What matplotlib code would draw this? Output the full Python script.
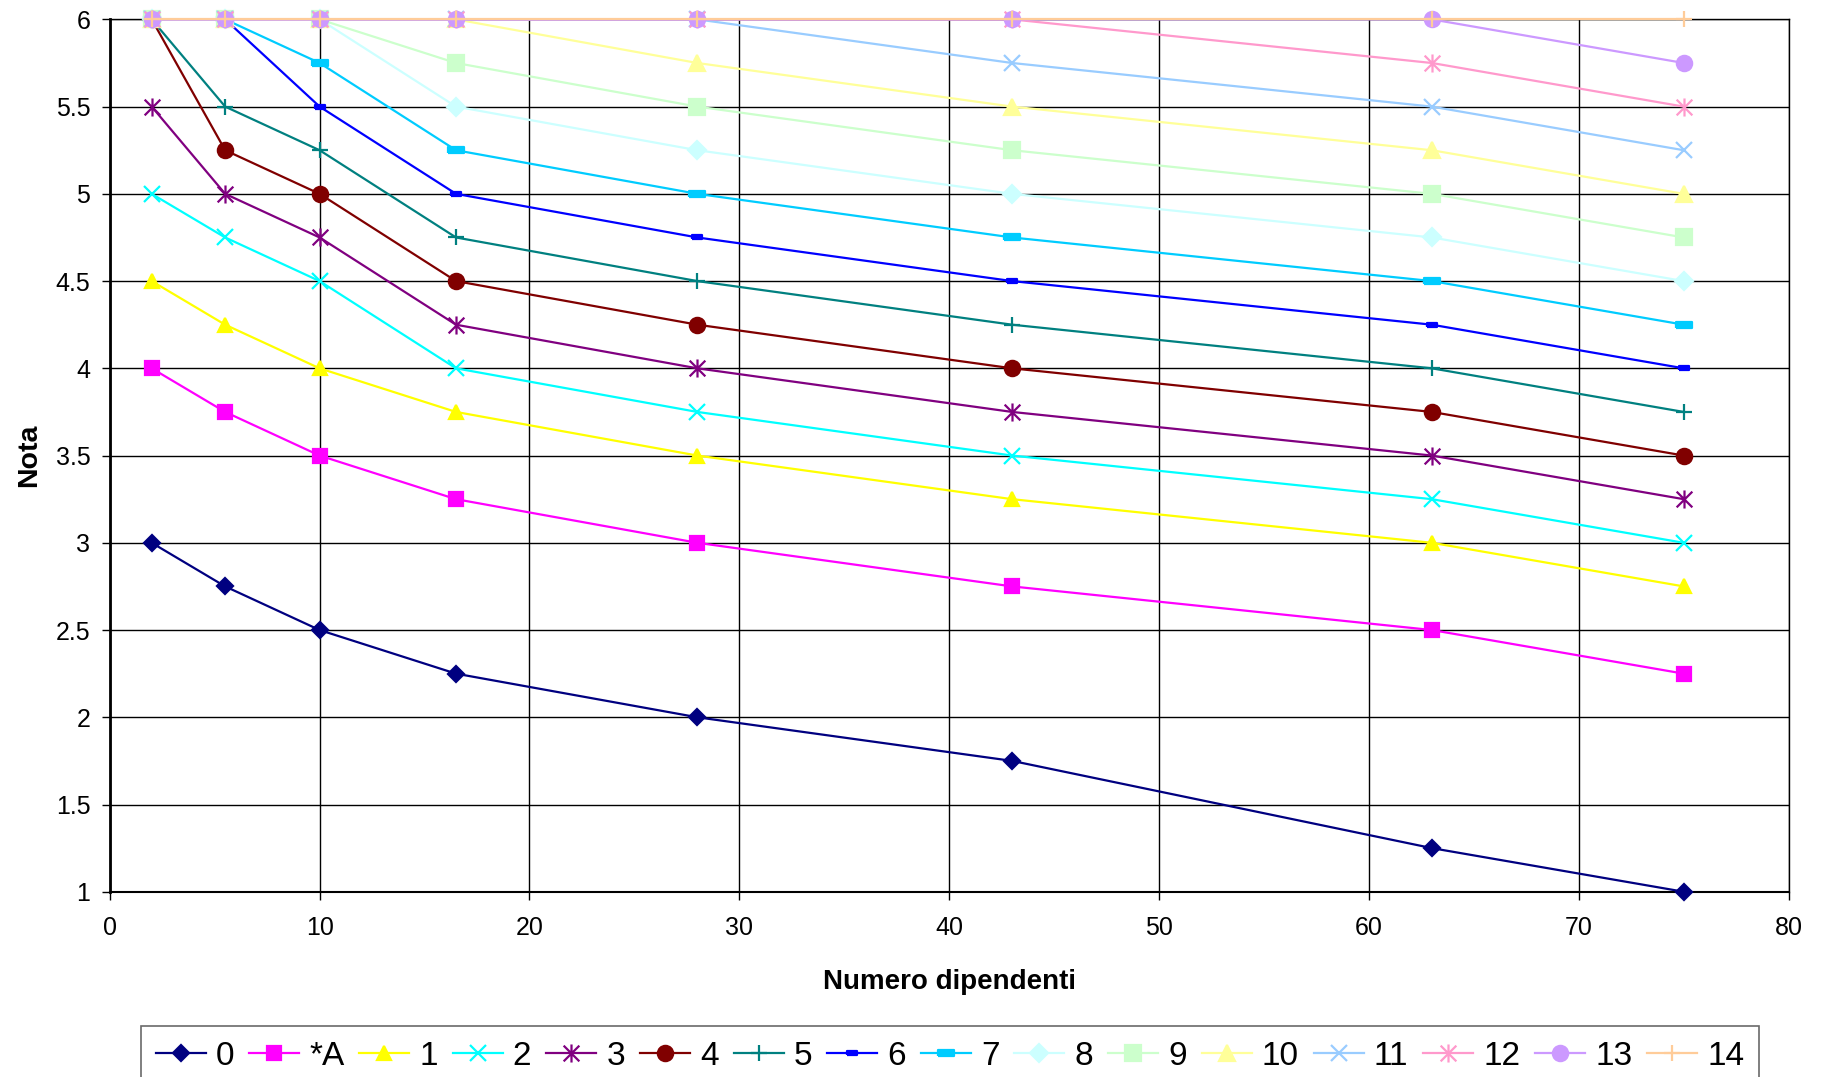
import matplotlib
matplotlib.use('Agg')
import matplotlib.pyplot as plt
from matplotlib.path import Path

plt.rcParams['font.family'] = ['Liberation Sans', 'DejaVu Sans']

# Numero dipendenti (asse x)
dipendenti = [2, 5.5, 10, 16.5, 28, 43, 63, 75]

# Nota per ciascuna serie
nomi = ['0', '*A', '1', '2', '3', '4', '5', '6', '7', '8', '9', '10', '11', '12', '13', '14']
note = [
    [3, 2.75, 2.5, 2.25, 2, 1.75, 1.25, 1],
    [4, 3.75, 3.5, 3.25, 3, 2.75, 2.5, 2.25],
    [4.5, 4.25, 4, 3.75, 3.5, 3.25, 3, 2.75],
    [5, 4.75, 4.5, 4, 3.75, 3.5, 3.25, 3],
    [5.5, 5, 4.75, 4.25, 4, 3.75, 3.5, 3.25],
    [6, 5.25, 5, 4.5, 4.25, 4, 3.75, 3.5],
    [6, 5.5, 5.25, 4.75, 4.5, 4.25, 4, 3.75],
    [6, 6, 5.5, 5, 4.75, 4.5, 4.25, 4],
    [6, 6, 5.75, 5.25, 5, 4.75, 4.5, 4.25],
    [6, 6, 6, 5.5, 5.25, 5, 4.75, 4.5],
    [6, 6, 6, 5.75, 5.5, 5.25, 5, 4.75],
    [6, 6, 6, 6, 5.75, 5.5, 5.25, 5],
    [6, 6, 6, 6, 6, 5.75, 5.5, 5.25],
    [6, 6, 6, 6, 6, 6, 5.75, 5.5],
    [6, 6, 6, 6, 6, 6, 6, 5.75],
    [6, 6, 6, 6, 6, 6, 6, 6],
]

colori = ['#000080', '#FF00FF', '#FFFF00', '#00FFFF', '#800080', '#800000',
          '#008080', '#0000FF', '#00CCFF', '#CCFFFF', '#CCFFCC', '#FFFF99',
          '#99CCFF', '#FF99CC', '#CC99FF', '#FFCC99']

# marker Excel: barra orizzontale e asterisco (x + linea verticale)
barra = [(-1, -0.35), (1, -0.35), (1, 0.35), (-1, 0.35), (-1, -0.35)]
stella = Path([(-1, -1), (1, 1), (-1, 1), (1, -1), (0, -1.15), (0, 1.15)],
              [Path.MOVETO, Path.LINETO, Path.MOVETO, Path.LINETO, Path.MOVETO, Path.LINETO])
marker = ['D', 's', '^', 'x', stella, 'o', '+', barra, barra,
          'D', 's', '^', 'x', stella, 'o', '+']
msize = [8, 10, 10, 11, 13, 11, 12, 7, 11, 9, 11, 11, 11, 13, 11, 12]

fig = plt.figure(figsize=(18.29, 10.77), dpi=100)
ax = fig.add_axes([0.060, 0.172, 0.918, 0.810])

for i in range(len(nomi)):
    ax.plot(dipendenti, note[i], color=colori[i], marker=marker[i],
            markersize=msize[i], markeredgewidth=1.6, linewidth=1.6,
            label=nomi[i], clip_on=False, zorder=3 + i)

ax.set_xlim(0, 80)
ax.set_ylim(1, 6)
ax.set_xticks(range(0, 81, 10))
ax.set_yticks([1, 1.5, 2, 2.5, 3, 3.5, 4, 4.5, 5, 5.5, 6])
ax.set_yticklabels(['1', '1.5', '2', '2.5', '3', '3.5', '4', '4.5', '5', '5.5', '6'])
ax.grid(True, color='black', linewidth=1.0)
ax.set_axisbelow(True)
ax.tick_params(axis='both', direction='out', length=5.5, width=1, labelsize=18)
ax.tick_params(axis='x', pad=12)
ax.tick_params(axis='y', pad=8.5)
for s in ax.spines.values():
    s.set_linewidth(1.0)
ax.spines['left'].set_linewidth(2)
ax.spines['bottom'].set_linewidth(1.5)

ax.set_xlabel('Numero dipendenti', fontsize=20, fontweight='bold', labelpad=21)
ax.set_ylabel('Nota', fontsize=20.5, fontweight='bold', labelpad=10)

leg = fig.legend(loc='upper center', bbox_to_anchor=(0.5194, 0.0474), ncol=16,
                 fontsize=24, frameon=True, fancybox=False, edgecolor='#444444',
                 handlelength=1.5, handletextpad=0.3, columnspacing=0.45,
                 borderpad=0.45, borderaxespad=0)
leg.get_frame().set_linewidth(1.2)

fig.savefig('out.png', dpi=100)
